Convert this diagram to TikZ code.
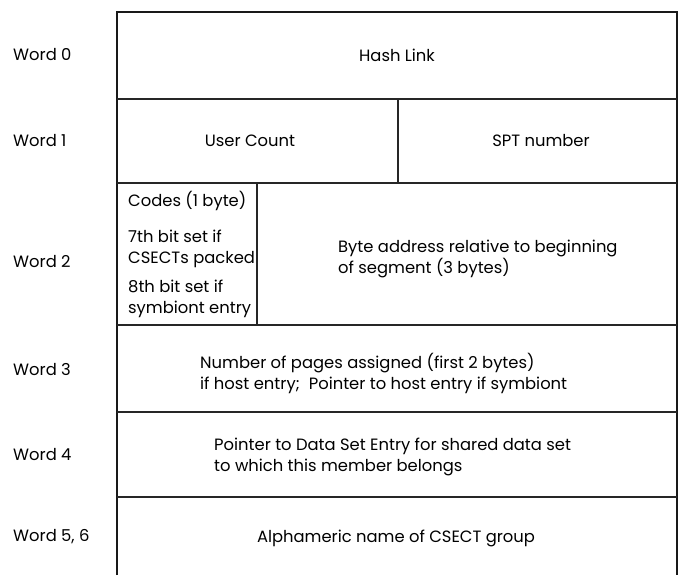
\documentclass[tikz,border=0pt]{standalone}
\usepackage{fontspec}
\setmainfont{Poppins}
\newlength\probewd
\begin{document}
% size the text so that the longest single line has its set width
\settowidth\probewd{\fontsize{10}{12}\selectfont Alphameric name of CSECT group}
\pgfmathsetmacro\txtsize{10*278/\probewd}
\begin{tikzpicture}[x=1pt,y=-1pt,
  rule/.style={line width=1.3pt,black!85},
  frame/.style={line width=1.8pt,black!90},
  wordlbl/.style={anchor=west,inner sep=0pt,font=\fontsize{\txtsize}{21}\selectfont},
  cell/.style={inner sep=0pt,font=\fontsize{\txtsize}{21}\selectfont},
  celltext/.style={anchor=west,inner sep=0pt,align=left,font=\fontsize{\txtsize}{21}\selectfont}]
\useasboundingbox (0,0) rectangle (684,575);
\fill[white] (0,0) rectangle (684,575);

% outer frame, open at the bottom
\draw[frame] (117,575) -- (117,12) -- (677,12) -- (677,575);
% word boundaries
\draw[rule] (117,99) -- (677,99);
\draw[rule] (117,183) -- (677,183);
\draw[rule] (117,325) -- (677,325);
\draw[rule] (117,412) -- (677,412);
\draw[rule] (117,497) -- (677,497);
% field dividers
\draw[rule] (398,99) -- (398,183);
\draw[rule] (257,183) -- (257,325);

% word labels
\node[wordlbl] (w0) at (13,55) {Word 0};
\node[wordlbl] (w1) at (13,141) {Word 1};
\node[wordlbl] (w2) at (13,262) {Word 2};
\node[wordlbl] (w3) at (13,370) {Word 3};
\node[wordlbl] (w4) at (13,455) {Word 4};
\node[wordlbl] (w5) at (13,537) {Word 5, 6};

% field contents
\node[cell] (hash) at (397,55) {Hash Link};
\node[cell] (users) at (250,141) {User Count};
\node[cell] (spt) at (541,141) {SPT number};
\node[celltext] (codes) at (128,201) {Codes (1 byte)};
\node[celltext] (bit7) at (128,249) {7th bit set if\\CSECTs packed};
\node[celltext] (bit8) at (128,299) {8th bit set if\\symbiont entry};
\node[celltext] (addr) at (338,259) {Byte address relative to beginning\\of segment (3 bytes)};
\node[celltext] (pages) at (200,373) {Number of pages assigned (first 2 bytes)\\if host entry;\ \ Pointer to host entry if symbiont};
\node[celltext] (dse) at (214,457) {Pointer to Data Set Entry for shared data set\\to which this member belongs};
\node[cell] (name) at (396,538) {Alphameric name of CSECT group};
\end{tikzpicture}
\end{document}
